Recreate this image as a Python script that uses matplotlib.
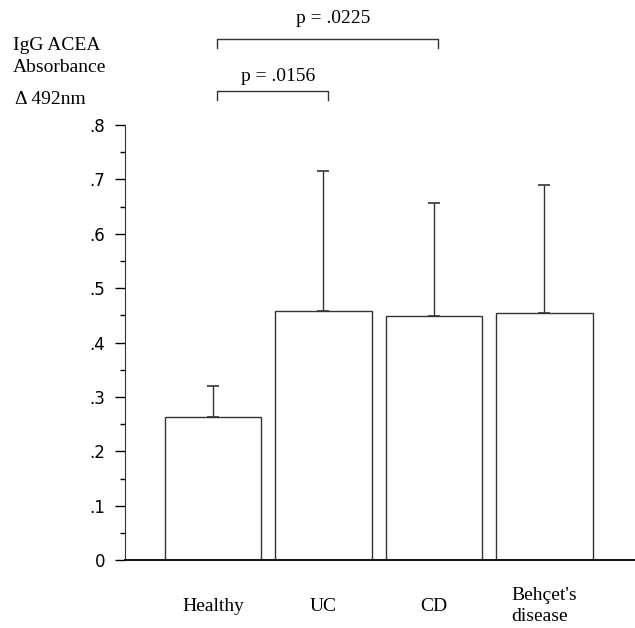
import numpy as np
import matplotlib
matplotlib.use("Agg")
import matplotlib.pyplot as plt

# datos
groups = ["Healthy", "UC", "CD", "Behçet's\ndisease"]
means = [0.263, 0.458, 0.449, 0.454]
sd_upper = [0.057, 0.258, 0.208, 0.236]
yticks = [0, 0.1, 0.2, 0.3, 0.4, 0.5, 0.6, 0.7, 0.8]
ytick_labels = ["0", ".1", ".2", ".3", ".4", ".5", ".6", ".7", ".8"]

# comparaciones: (grupo a, grupo b, altura, texto)
comparisons = [(0, 1, 0.862, 0.012, "p = .0156"), (0, 2, 0.958, 0.023, "p = .0225")]

serif = "Liberation Serif"
sans = "DejaVu Sans"

fig = plt.figure(figsize=(6.35, 6.28), dpi=100)
ax = fig.add_axes([0.197, 0.108, 0.803, 0.693])

x = np.arange(len(groups))
ax.bar(x, means, width=0.874, color="white", edgecolor="#333333", linewidth=1.0, zorder=2)
ax.errorbar(x, means, yerr=[np.zeros(len(means)), sd_upper], fmt="none",
            ecolor="#333333", elinewidth=1.0, capsize=4, capthick=1.2, zorder=1)

ax.set_xlim(-0.795, 3.82)
ax.set_ylim(0, 0.8)
ax.set_yticks(yticks)
ax.set_yticklabels(ytick_labels, fontfamily=sans, fontsize=12)
ax.set_yticks(np.arange(0.05, 0.8, 0.1), minor=True)
ax.tick_params(axis="y", which="major", length=7.5, width=1, direction="out", pad=7)
ax.tick_params(axis="y", which="minor", length=3.6, width=1, direction="out")
ax.set_xticks(x)
ax.set_xticklabels(groups, fontfamily=serif, fontsize=14, multialignment="left",
                   va="center", linespacing=1.3)
ax.tick_params(axis="x", length=0, pad=33)

for s in ["top", "right"]:
    ax.spines[s].set_visible(False)
ax.spines["left"].set_color("#333333")
ax.spines["bottom"].set_color("#111111")
ax.spines["bottom"].set_linewidth(1.4)

# brackets de significancia
for a, b, h, off, txt in comparisons:
    xa, xb = x[a] + 0.04, x[b] + 0.04
    ax.plot([xa, xa, xb, xb], [h - 0.016, h, h, h - 0.016], color="#333333",
            linewidth=1.0, clip_on=False)
    ax.text((xa + xb) / 2 + 0.05, h + off, txt, ha="center", va="bottom",
            fontfamily=serif, fontsize=14)

fig.text(0.02, 0.928, "IgG ACEA", fontfamily=serif, fontsize=14, va="center")
fig.text(0.02, 0.892, "Absorbance", fontfamily=serif, fontsize=14, va="center")
fig.text(0.023, 0.841, "\u0394 492nm", fontfamily=serif, fontsize=14, va="center")

fig.savefig("out.png", dpi=100)
